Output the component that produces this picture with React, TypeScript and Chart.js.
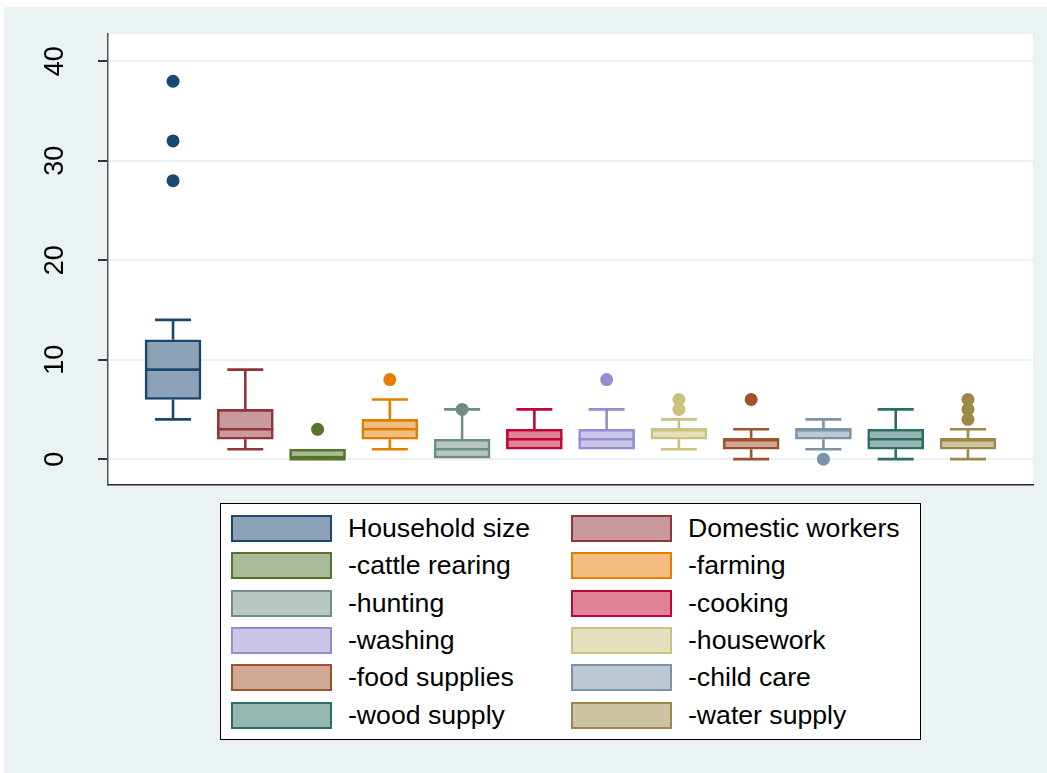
import React, { useEffect, useRef } from "react";
import { Chart, registerables } from "chart.js";

Chart.register(...registerables);

// ---------- data ----------
const categories = [
  "Household size",
  "Domestic workers",
  "-cattle rearing",
  "-farming",
  "-hunting",
  "-cooking",
  "-washing",
  "-housework",
  "-food supplies",
  "-child care",
  "-wood supply",
  "-water supply",
];
const minVals = [4, 1, 0, 1, 0, 1, 1, 1, 0, 1, 0, 0];
const q1Vals = [6, 2, 0, 2, 0, 1, 1, 2, 1, 2, 1, 1];
const medianVals = [9, 3, 0, 3, 1, 2, 2, 3, 2, 3, 2, 2];
const q3Vals = [12, 5, 1, 4, 2, 3, 3, 3, 2, 3, 3, 2];
const maxVals = [14, 9, 1, 6, 5, 5, 5, 4, 3, 4, 5, 3];
const outlierVals = [[28, 32, 38], [], [3], [8], [5], [], [8], [5, 6], [6], [0], [], [4, 5, 6]];
const yTickVals = [0, 10, 20, 30, 40];

// ---------- styles ----------
const edgeColors = [
  "#1a476f", "#90353b", "#55752f", "#e37e00", "#6e8e84", "#c10534",
  "#938dd2", "#cac27e", "#a0522d", "#7b92a8", "#2d6d66", "#9c8847",
];
const fillColors = [
  "#8ca3b7", "#c89a9d", "#aaba97", "#f1be80", "#b6c6c1", "#e08299",
  "#c9c6e8", "#e4e0be", "#cfa896", "#bdc8d3", "#96b6b2", "#cdc3a3",
];
const BG = "#eaf2f3";
const FONT = '"Liberation Sans", Arial, Helvetica, sans-serif';
const BOX_W = 56;
const CAP_W = 36;
const LINE_W = 2.6;

const boxPlugin = {
  id: "boxExtras",
  beforeDraw(chart: any) {
    const { ctx, chartArea } = chart;
    ctx.save();
    ctx.fillStyle = "#ffffff";
    ctx.fillRect(chartArea.left, chartArea.top, chartArea.right - chartArea.left, chartArea.bottom - chartArea.top);
    ctx.restore();
  },
  afterDatasetDraw(chart: any, args: any) {
    if (args.index !== 0) return;
    const { ctx } = chart;
    const x = chart.scales.x;
    const y = chart.scales.y;
    ctx.save();
    ctx.lineWidth = LINE_W;
    ctx.lineCap = "butt";
    categories.forEach((_, i) => {
      const cx = x.getPixelForValue(i);
      ctx.strokeStyle = edgeColors[i];
      if (maxVals[i] > q3Vals[i]) {
        const yTop = y.getPixelForValue(maxVals[i]);
        const yQ3 = y.getPixelForValue(q3Vals[i]);
        ctx.beginPath();
        ctx.moveTo(cx, yQ3);
        ctx.lineTo(cx, yTop);
        ctx.moveTo(cx - CAP_W / 2, yTop);
        ctx.lineTo(cx + CAP_W / 2, yTop);
        ctx.stroke();
      }
      if (minVals[i] < q1Vals[i]) {
        const yBot = y.getPixelForValue(minVals[i]);
        const yQ1 = y.getPixelForValue(q1Vals[i]);
        ctx.beginPath();
        ctx.moveTo(cx, yQ1);
        ctx.lineTo(cx, yBot);
        ctx.moveTo(cx - CAP_W / 2, yBot);
        ctx.lineTo(cx + CAP_W / 2, yBot);
        ctx.stroke();
      }
      const yMed = y.getPixelForValue(medianVals[i]);
      ctx.beginPath();
      ctx.moveTo(cx - BOX_W / 2, yMed);
      ctx.lineTo(cx + BOX_W / 2, yMed);
      ctx.stroke();
    });
    ctx.restore();
  },
  afterDraw(chart: any) {
    const { ctx } = chart;
    const y = chart.scales.y;
    ctx.save();
    ctx.fillStyle = "#000";
    ctx.font = `27px ${FONT}`;
    ctx.textAlign = "center";
    ctx.textBaseline = "middle";
    y.ticks.forEach((t: any) => {
      const py = y.getPixelForValue(t.value);
      ctx.save();
      ctx.translate(55, py);
      ctx.rotate(-Math.PI / 2);
      ctx.fillText(String(t.value), 0, 1);
      ctx.restore();
    });
    ctx.restore();
  },
};

function Legend() {
  const rowTop = 11;
  const rowGap = 37.3;
  return (
    <div
      style={{
        position: "absolute",
        left: 220,
        top: 503,
        width: 701,
        height: 237,
        boxSizing: "border-box",
        border: "1px solid #000",
        background: "#fff",
        fontFamily: FONT,
        fontSize: 25,
        color: "#000",
      }}
    >
      {categories.map((label, i) => {
        const col = i % 2;
        const row = Math.floor(i / 2);
        const top = rowTop + row * rowGap;
        const swLeft = col === 0 ? 10 : 350;
        const txLeft = col === 0 ? 127 : 467;
        return (
          <React.Fragment key={label}>
            <div
              style={{
                position: "absolute",
                left: swLeft,
                top,
                width: 101,
                height: 27,
                boxSizing: "border-box",
                border: `2.5px solid ${edgeColors[i]}`,
                background: fillColors[i],
              }}
            />
            <div
              style={{
                position: "absolute",
                left: txLeft,
                top: top - 1,
                height: 29,
                lineHeight: "29px",
                whiteSpace: "nowrap",
                transform: "scaleX(1.065)",
                transformOrigin: "left center",
              }}
            >
              {label}
            </div>
          </React.Fragment>
        );
      })}
    </div>
  );
}

export default function App() {
  const canvasRef = useRef<HTMLCanvasElement | null>(null);

  useEffect(() => {
    const canvas = canvasRef.current;
    if (!canvas) return;
    const boxData = categories.map((_, i) => ({ x: i, y: [q1Vals[i], q3Vals[i]] }));
    const outlierData: any[] = [];
    const outlierColors: string[] = [];
    outlierVals.forEach((arr, i) => {
      arr.forEach((v) => {
        outlierData.push({ x: i, y: v });
        outlierColors.push(edgeColors[i]);
      });
    });

    const chart = new Chart(canvas, {
      type: "bar",
      data: {
        datasets: [
          {
            type: "bar",
            data: boxData as any,
            backgroundColor: fillColors,
            borderColor: edgeColors,
            borderWidth: LINE_W,
            borderSkipped: false,
            barThickness: BOX_W,
            order: 2,
          } as any,
          {
            type: "scatter",
            data: outlierData,
            backgroundColor: outlierColors,
            borderColor: outlierColors,
            pointRadius: 6.5,
            pointBorderWidth: 0,
            order: 1,
          } as any,
        ],
      },
      options: {
        responsive: false,
        animation: false,
        events: [],
        layout: { padding: { left: 0, top: 34, right: 14, bottom: 288 } },
        plugins: { legend: { display: false }, tooltip: { enabled: false } },
        scales: {
          x: {
            type: "linear",
            min: -0.9,
            max: 11.9,
            offset: false,
            grid: { display: false },
            ticks: { display: false },
            border: { display: true, color: "#222", width: 1.5 },
            afterFit: (s: any) => {
              s.height = 0;
            },
          },
          y: {
            type: "linear",
            min: -2.6,
            max: 42.75,
            ticks: { display: false, includeBounds: false },
            afterBuildTicks: (s: any) => {
              s.ticks = yTickVals.map((v) => ({ value: v }));
            },
            grid: {
              color: BG,
              lineWidth: 2,
              tickColor: "#333",
              tickLength: 10,
              drawTicks: true,
            },
            border: { display: true, color: "#555", width: 1.5 },
            afterFit: (s: any) => {
              s.width = 108;
            },
          },
        },
      },
      plugins: [boxPlugin],
    });
    return () => chart.destroy();
  }, []);

  return (
    <div style={{ position: "absolute", left: 0, top: 0, width: 1047, height: 773, background: "#fff", overflow: "hidden" }}>
      <div style={{ position: "absolute", left: 4, top: 7, width: 1043, height: 766, background: BG }} />
      <canvas ref={canvasRef} width={1047} height={773} style={{ position: "absolute", left: 0, top: 0, width: 1047, height: 773 }} />
      <Legend />
    </div>
  );
}
